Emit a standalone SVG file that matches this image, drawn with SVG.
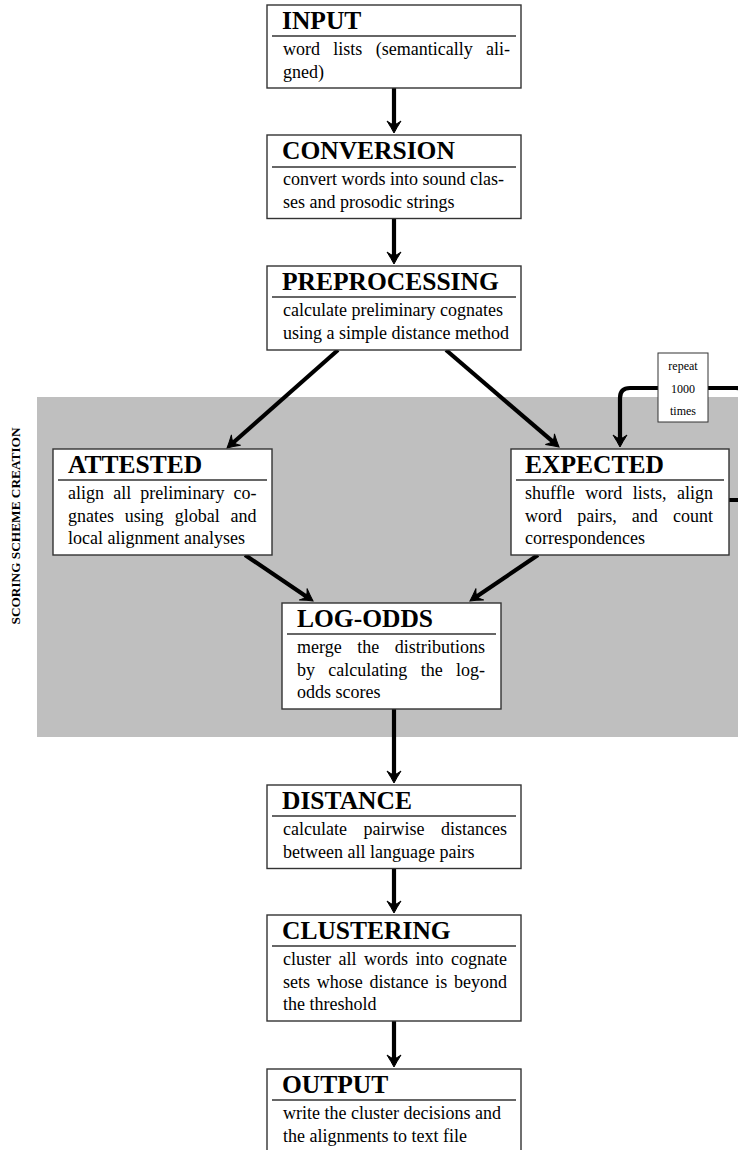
<svg xmlns="http://www.w3.org/2000/svg" width="738" height="1150" viewBox="0 0 738 1150">
  <style>
    .box { fill: #ffffff; stroke: #333333; stroke-width: 1.4; }
    .rule { stroke: #333333; stroke-width: 1.3; }
    .title { font-family: "Liberation Serif", "Times New Roman", serif; font-weight: bold; font-size: 25.5px; fill: #000000; }
    .body { font-family: "Liberation Serif", "Times New Roman", serif; font-size: 18px; fill: #000000; }
    .small { font-family: "Liberation Serif", "Times New Roman", serif; font-size: 12px; fill: #000000; text-anchor: middle; }
    .side { font-family: "Liberation Serif", "Times New Roman", serif; font-weight: bold; font-size: 13.3px; fill: #000000; text-anchor: middle; }
    .edge { fill: none; stroke: #000000; stroke-width: 4.2; stroke-linecap: butt; stroke-linejoin: round; marker-end: url(#head); }
    .loop { fill: none; stroke: #000000; stroke-width: 4.2; }
  </style>
  <defs>
    <marker id="head" markerUnits="userSpaceOnUse" orient="auto" viewBox="-15 -10 30 20" markerWidth="30" markerHeight="20" refX="-5" refY="0" overflow="visible">
      <path d="M0,0 Q-5,-2.6 -12,-7 Q-8.5,-2.5 -8.5,0 Q-8.5,2.5 -12,7 Q-5,2.6 0,0 Z" fill="#000000" stroke="#000000" stroke-width="1" stroke-linejoin="miter"/>
    </marker>
  </defs>

  <!-- shaded band for the scoring scheme stage -->
  <rect x="37" y="397" width="710" height="340" fill="#bfbfbf"/>
  <text class="side" transform="translate(20,526) rotate(-90)">SCORING SCHEME CREATION</text>

  <!-- connectors -->
  <g id="connectors">
    <line class="edge" x1="394" y1="88" x2="394" y2="128"/>
    <line class="edge" x1="394" y1="218.5" x2="394" y2="259"/>
    <line class="edge" x1="338" y1="350" x2="230.8" y2="444.7"/>
    <line class="edge" x1="446" y1="350" x2="555.2" y2="443.7"/>
    <line class="edge" x1="245" y1="555" x2="308.9" y2="598.2"/>
    <line class="edge" x1="538" y1="555" x2="474.1" y2="598.2"/>
    <line class="edge" x1="394" y1="709" x2="394" y2="778"/>
    <line class="edge" x1="394" y1="868.5" x2="394" y2="908"/>
    <line class="edge" x1="394" y1="1021" x2="394" y2="1062"/>
    <!-- resampling loop back into EXPECTED -->
    <path class="edge" d="M729,500 H736 Q746,500 746,490 V398 Q746,388 736,388 H630 Q620,388 620,398 V442"/>
  </g>

  <g id="repeat">
    <rect x="658" y="353" width="50" height="69" fill="#ffffff" stroke="#333333" stroke-width="1"/>
    <text class="small" x="683" y="370">repeat</text>
    <text class="small" x="683" y="393">1000</text>
    <text class="small" x="683" y="415">times</text>
  </g>

  <g id="input">
    <rect class="box" x="267" y="5" width="254" height="83"/>
    <text class="title" x="282" y="29">INPUT</text>
    <line class="rule" x1="272" y1="36" x2="516" y2="36"/>
    <text class="body" x="283" y="55" word-spacing="8.8" textLength="227" lengthAdjust="spacing">word lists (semantically ali-</text>
    <text class="body" x="283" y="77.5">gned)</text>
  </g>

  <g id="conversion">
    <rect class="box" x="267" y="135" width="254" height="83.5"/>
    <text class="title" x="282" y="159">CONVERSION</text>
    <line class="rule" x1="272" y1="167" x2="516" y2="167"/>
    <text class="body" x="283" y="185">convert words into sound clas-</text>
    <text class="body" x="283" y="207.5">ses and prosodic strings</text>
  </g>

  <g id="preprocessing">
    <rect class="box" x="267" y="266" width="254" height="84"/>
    <text class="title" x="282" y="290">PREPROCESSING</text>
    <line class="rule" x1="272" y1="297" x2="516" y2="297"/>
    <text class="body" x="283" y="316">calculate preliminary cognates</text>
    <text class="body" x="283" y="338.5">using a simple distance method</text>
  </g>

  <g id="attested">
    <rect class="box" x="53" y="449" width="219" height="106"/>
    <text class="title" x="68" y="473">ATTESTED</text>
    <line class="rule" x1="58" y1="480" x2="267" y2="480"/>
    <text class="body" x="68" y="499" word-spacing="4.6" textLength="188.5" lengthAdjust="spacing">align all preliminary co-</text>
    <text class="body" x="68" y="521.5" word-spacing="6.3" textLength="188.5" lengthAdjust="spacing">gnates using global and</text>
    <text class="body" x="68" y="544">local alignment analyses</text>
  </g>

  <g id="expected">
    <rect class="box" x="511" y="449" width="218" height="106"/>
    <text class="title" x="525" y="473">EXPECTED</text>
    <line class="rule" x1="516" y1="480" x2="724" y2="480"/>
    <text class="body" x="525" y="499" word-spacing="6" textLength="188" lengthAdjust="spacing">shuffle word lists, align</text>
    <text class="body" x="525" y="521.5" word-spacing="10.7" textLength="188" lengthAdjust="spacing">word pairs, and count</text>
    <text class="body" x="525" y="544">correspondences</text>
  </g>

  <g id="log-odds">
    <rect class="box" x="282" y="603" width="219" height="106"/>
    <text class="title" x="297" y="627">LOG-ODDS</text>
    <line class="rule" x1="287" y1="634" x2="496" y2="634"/>
    <text class="body" x="297" y="653" word-spacing="11" textLength="188" lengthAdjust="spacing">merge the distributions</text>
    <text class="body" x="297" y="675.5" word-spacing="8.8" textLength="188" lengthAdjust="spacing">by calculating the log-</text>
    <text class="body" x="297" y="698">odds scores</text>
  </g>

  <g id="distance">
    <rect class="box" x="267" y="785" width="254" height="83.5"/>
    <text class="title" x="282" y="809">DISTANCE</text>
    <line class="rule" x1="272" y1="816" x2="516" y2="816"/>
    <text class="body" x="283" y="835" word-spacing="12" textLength="224" lengthAdjust="spacing">calculate pairwise distances</text>
    <text class="body" x="283" y="857.5">between all language pairs</text>
  </g>

  <g id="clustering">
    <rect class="box" x="267" y="915" width="254" height="106"/>
    <text class="title" x="282" y="939">CLUSTERING</text>
    <line class="rule" x1="272" y1="946" x2="516" y2="946"/>
    <text class="body" x="283" y="965" word-spacing="3" textLength="224" lengthAdjust="spacing">cluster all words into cognate</text>
    <text class="body" x="283" y="987.5" word-spacing="2.2" textLength="224" lengthAdjust="spacing">sets whose distance is beyond</text>
    <text class="body" x="283" y="1010">the threshold</text>
  </g>

  <g id="output">
    <rect class="box" x="267" y="1069" width="254" height="90"/>
    <text class="title" x="282" y="1093">OUTPUT</text>
    <line class="rule" x1="272" y1="1100" x2="516" y2="1100"/>
    <text class="body" x="283" y="1119">write the cluster decisions and</text>
    <text class="body" x="283" y="1141.5">the alignments to text file</text>
  </g>
</svg>
